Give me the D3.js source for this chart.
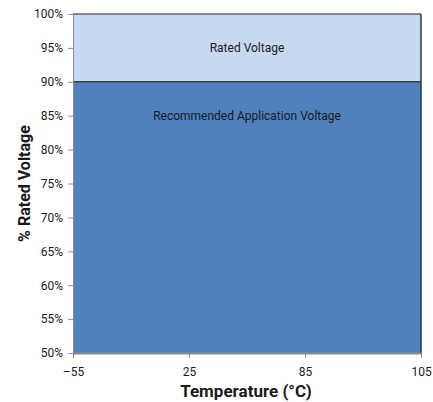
<!DOCTYPE html>
<html>
<head>
<meta charset="utf-8">
<script src="https://cdn.jsdelivr.net/npm/d3@7"></script>
<style>
  body { margin: 0; background: #fff; }
  svg text { font-family: "Roboto", sans-serif; fill: #1a1a1a; }
</style>
</head>
<body>
<div id="chart"></div>
<script>
// chart data
const temps = [-55, 25, 85, 105];
const recommended = [90, 90, 90, 90];
const rated = [100, 100, 100, 100];
const yTicks = [50, 55, 60, 65, 70, 75, 80, 85, 90, 95, 100];
const areaLabels = ["Rated Voltage", "Recommended Application Voltage"];

const W = 433, H = 402;
const margin = {top: 14, right: 12, bottom: 49, left: 73};
const width = W - margin.left - margin.right,
      height = H - margin.top - margin.bottom;

const svg = d3.select("#chart").append("svg")
    .attr("width", W).attr("height", H);
const g = svg.append("g")
    .attr("transform", "translate(" + margin.left + "," + margin.top + ")");

const x = d3.scalePoint().domain(temps).range([0, width]);
const y = d3.scaleLinear().domain([50, 100]).range([height, 0]);

const rows = temps.map((t, i) => ({t: t, rec: recommended[i], rated: rated[i]}));

// rated band (top)
g.append("path").datum(rows)
    .attr("fill", "#c6d9f1")
    .attr("d", d3.area().x(d => x(d.t)).y0(d => y(d.rec)).y1(d => y(d.rated)));
// recommended band
g.append("path").datum(rows)
    .attr("fill", "#4f81bd")
    .attr("d", d3.area().x(d => x(d.t)).y0(height).y1(d => y(d.rec)));

// edges of the series
g.append("path").datum(rows)
    .attr("fill", "none").attr("stroke", "#3a3f46").attr("stroke-width", 1.5)
    .attr("d", d3.line().x(d => x(d.t)).y(d => y(d.rec)));
g.append("path").datum(rows)
    .attr("fill", "none").attr("stroke", "#1f1f1f").attr("stroke-width", 1.2)
    .attr("d", d3.line().x(d => x(d.t)).y(d => y(d.rated)));
g.append("line")
    .attr("x1", width).attr("x2", width).attr("y1", 0).attr("y2", height)
    .attr("stroke", "#2b3440").attr("stroke-width", 1.5);

// y axis
const yAxis = g.append("g")
    .call(d3.axisLeft(y).tickValues(yTicks).tickFormat(d => d + "%").tickSize(5).tickSizeOuter(0));
yAxis.select(".domain").attr("stroke", "#8c8c8c").attr("stroke-width", 1);
yAxis.selectAll(".tick line").attr("stroke", "#8c8c8c");
yAxis.selectAll("text").attr("font-size", 12).attr("x", -10);

// x axis
const xAxis = g.append("g").attr("transform", "translate(0," + height + ")")
    .call(d3.axisBottom(x).tickFormat(d => d < 0 ? "\u2013" + Math.abs(d) : d).tickSize(5).tickSizeOuter(0));
xAxis.select(".domain").attr("stroke", "#8c8c8c").attr("stroke-width", 2);
xAxis.selectAll(".tick line").attr("stroke", "#8c8c8c");
xAxis.selectAll("text").attr("font-size", 12).attr("y", 14);

// area labels
g.append("text").attr("x", width / 2).attr("y", y(94.4))
    .attr("text-anchor", "middle").attr("font-size", 12).text(areaLabels[0]);
g.append("text").attr("x", width / 2).attr("y", y(84.4))
    .attr("text-anchor", "middle").attr("font-size", 12).text(areaLabels[1]);

// axis titles
svg.append("text").attr("x", margin.left + width / 2 - 1).attr("y", 397)
    .attr("text-anchor", "middle").attr("font-size", 17).attr("font-weight", "bold")
    .text("Temperature (\u00b0C)");
svg.append("text")
    .attr("transform", "translate(30," + (margin.top + height / 2) + ") rotate(-90)")
    .attr("text-anchor", "middle").attr("font-size", 16).attr("font-weight", "bold")
    .text("% Rated Voltage");
</script>
</body>
</html>
